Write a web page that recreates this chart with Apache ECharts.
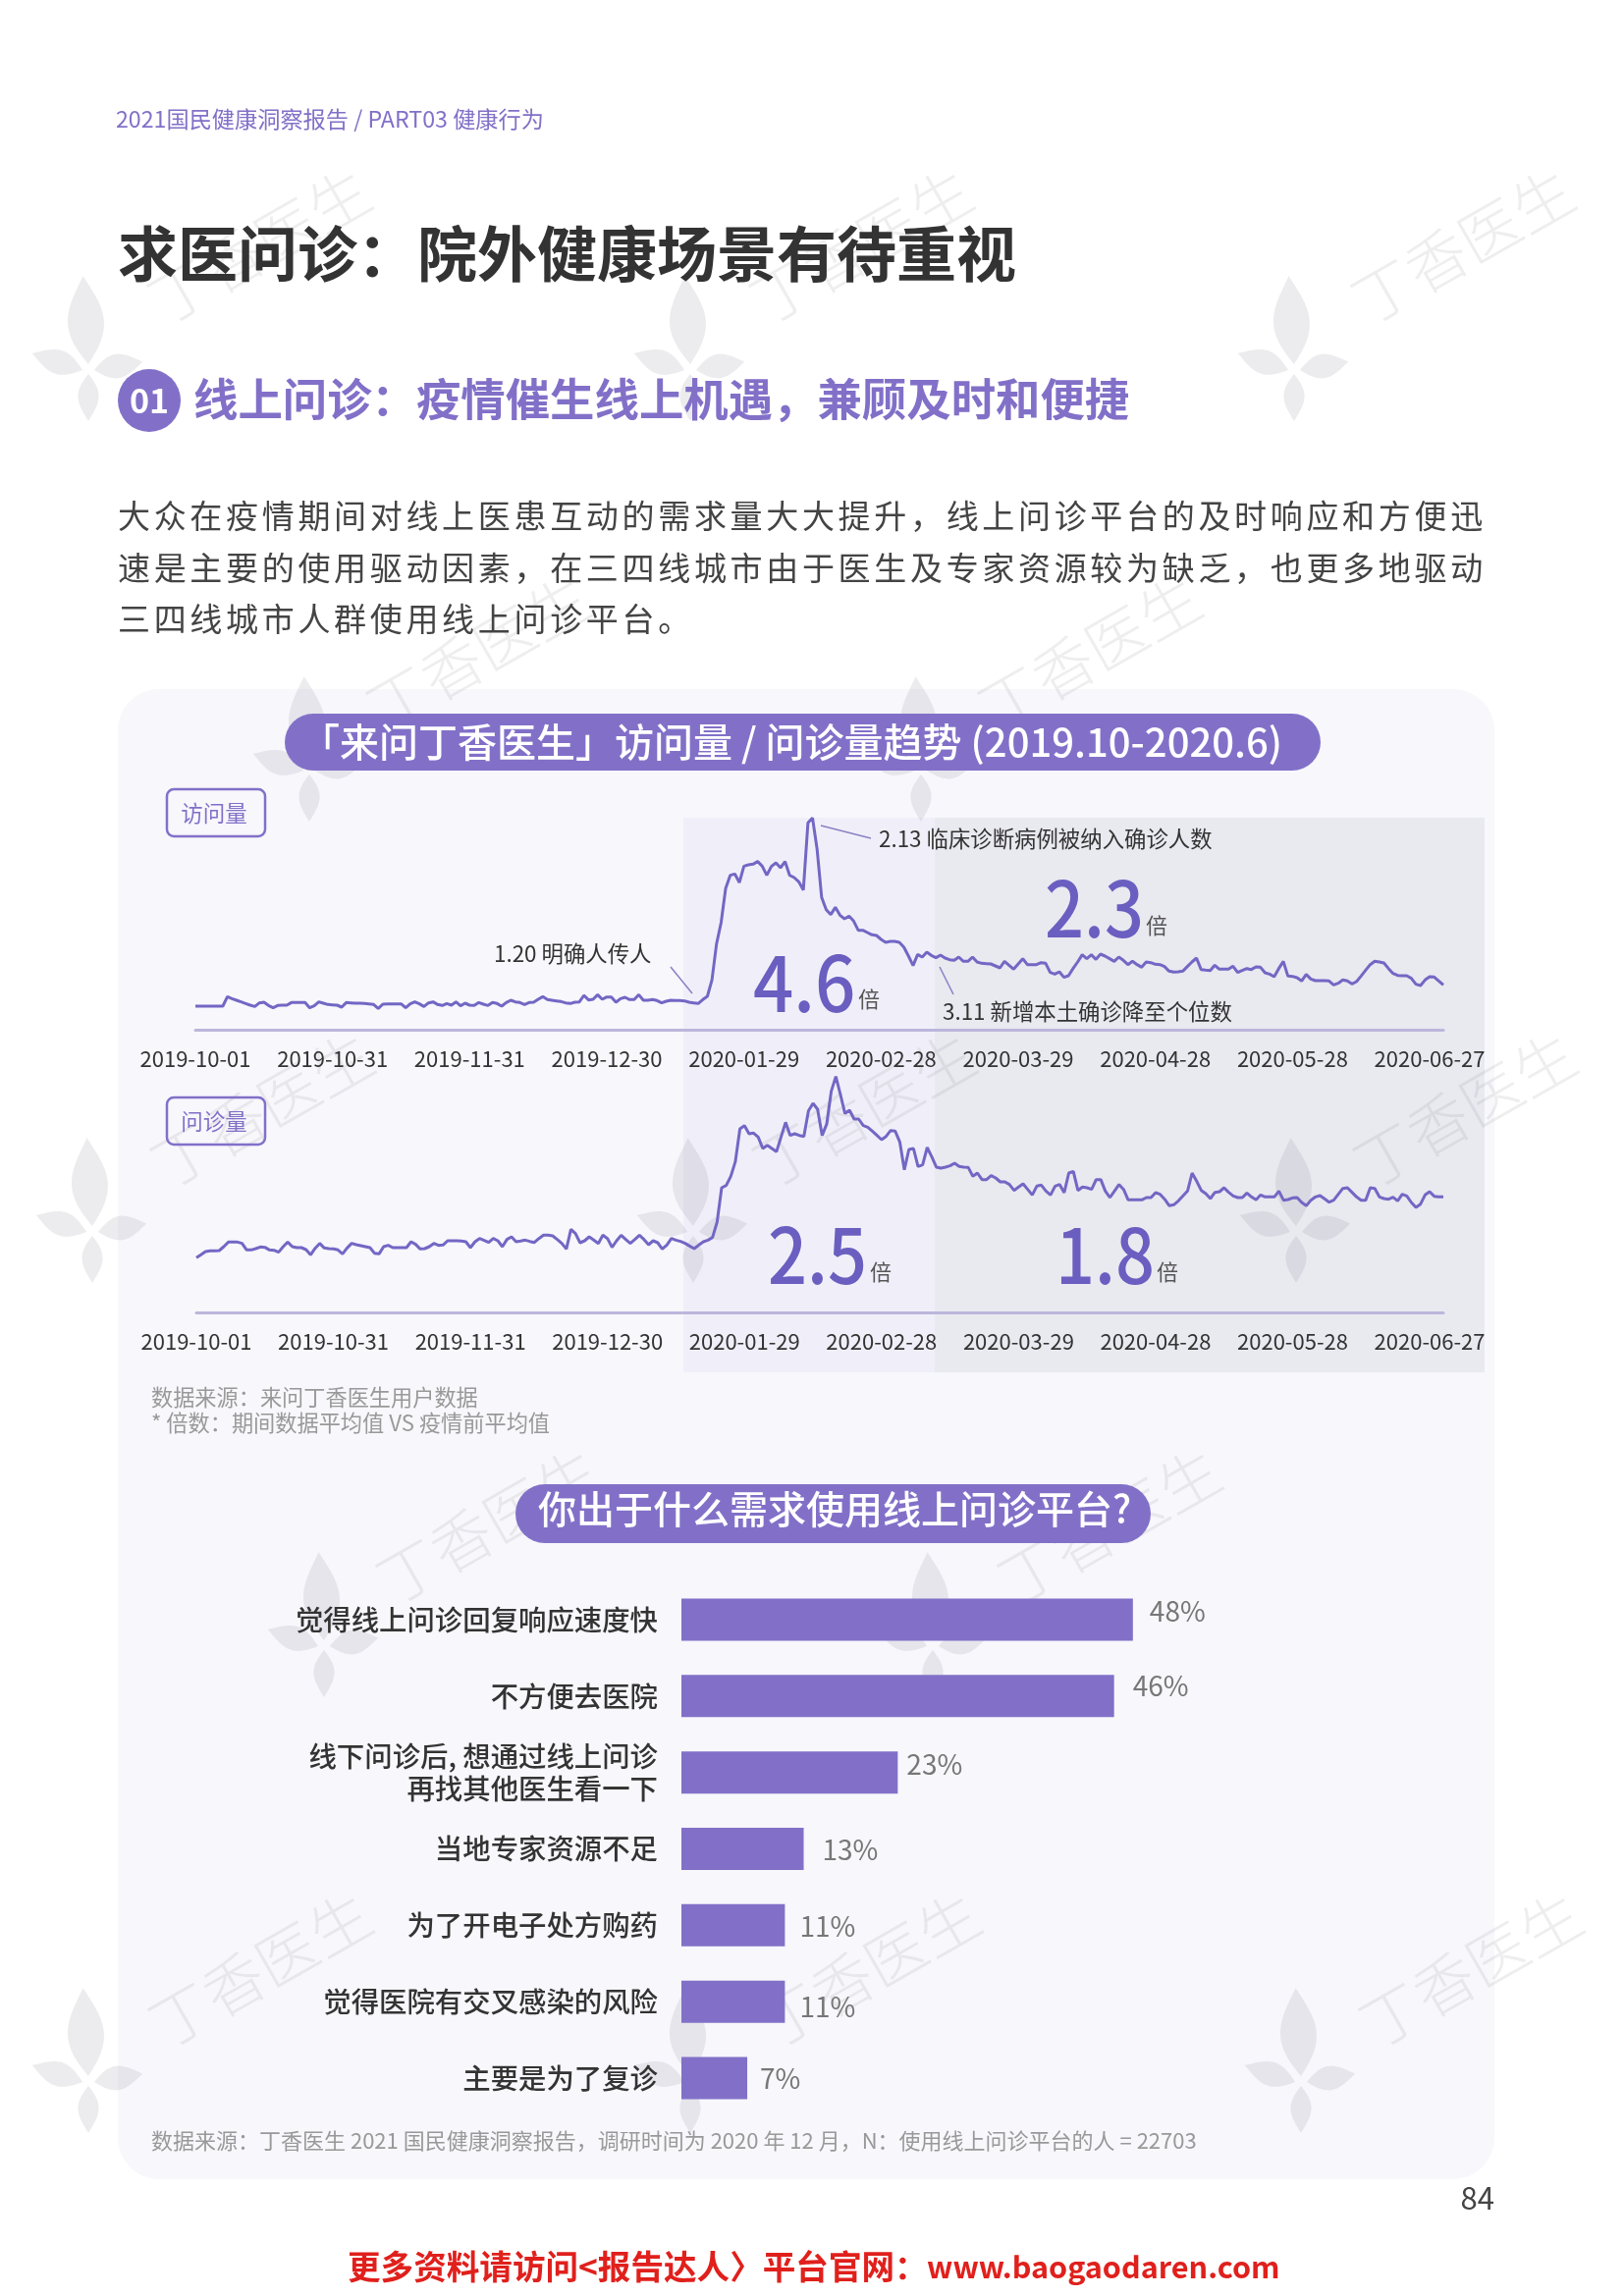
<!DOCTYPE html>
<html lang="zh"><head><meta charset="utf-8">
<style>html,body{margin:0;padding:0;background:#fff}#c{width:1654px;height:2339px}</style>
<script src="https://cdn.jsdelivr.net/npm/echarts@6/dist/echarts.min.js"></script>
</head><body><div id="c"></div>
<script>
// ---------- data ----------
const tickLabels1 = ['2019-10-01','2019-10-31','2019-11-31','2019-12-30','2020-01-29','2020-02-28','2020-03-29','2020-04-28','2020-05-28','2020-06-27'];
const tickLabels2 = tickLabels1.slice();
const visits = [
72,72,72,72,72,72,72,101,95,90,
85,80,75,71,82,84,74,67,74,75,
75,83,83,83,83,67,73,85,81,77,
76,75,69,83,82,81,81,80,79,77,
65,78,79,79,79,79,67,79,85,79,
71,82,85,77,74,80,75,85,73,81,
75,74,83,78,74,83,80,72,83,90,
85,83,77,83,84,93,101,92,90,88,
86,82,80,84,85,105,91,93,107,93,
100,100,84,95,99,92,92,107,90,90,
92,89,82,87,90,89,89,88,84,82,
80,92,102,152,262,327,432,472,476,450,
500,504,506,514,500,472,499,510,495,514,
472,465,452,427,632,647,552,404,367,352,
374,350,339,347,332,304,304,297,290,288,
276,267,270,270,267,252,225,196,230,222,
237,227,220,228,219,214,212,222,209,209,
222,207,203,202,201,195,189,209,197,185,
201,217,199,199,199,205,203,175,170,177,
160,165,187,207,229,217,229,215,231,225,
217,209,222,212,199,209,199,191,207,205,
200,199,193,179,176,177,179,193,207,219,
184,182,181,197,185,185,185,194,175,181,
187,184,192,191,174,170,162,187,209,164,
163,159,149,169,155,150,150,150,149,137,
142,152,149,140,147,164,182,199,209,207,
204,187,172,166,165,165,157,139,135,152,
162,161,149,137];
const consults = [
167,176,186,188,188,189,201,215,215,215,
211,191,191,195,200,199,191,190,184,201,
215,201,198,198,192,176,196,211,197,195,
194,191,179,197,211,207,204,201,198,181,
179,201,205,198,198,198,198,216,208,194,
195,201,211,205,206,219,219,219,218,216,
198,216,226,220,214,226,219,201,223,231,
216,218,221,217,214,226,236,236,234,223,
211,194,254,241,213,219,231,221,211,236,
226,199,219,236,223,211,223,236,223,207,
219,213,194,206,226,221,217,211,203,195,
206,216,221,229,276,381,388,416,461,561,
571,546,548,536,501,511,501,491,536,581,
541,546,541,538,616,639,621,541,576,676,
721,666,608,618,591,591,571,566,554,541,
528,538,556,554,521,436,498,501,446,451,
504,476,444,441,444,448,456,446,444,443,
416,426,406,406,418,411,399,399,391,373,
383,393,376,359,386,389,371,359,386,391,
366,426,431,373,383,381,376,406,406,371,
351,371,391,376,344,344,344,344,351,351,
366,361,346,326,329,341,356,371,426,401,
373,363,348,367,369,381,367,356,351,351,
365,353,344,359,353,353,353,371,343,345,
350,351,336,326,343,353,357,347,337,343,
361,379,381,367,353,343,343,381,379,353,
348,346,352,341,361,356,336,321,331,359,
369,355,353,353];
const needCategories = ['觉得线上问诊回复响应速度快','不方便去医院','线下问诊后, 想通过线上问诊\n再找其他医生看一下','当地专家资源不足','为了开电子处方购药','觉得医院有交叉感染的风险','主要是为了复诊'];
const needValues = [48,46,23,13,11,11,7];
const bodyLines = ['大众在疫情期间对线上医患互动的需求量大大提升\uFF0C线上问诊平台的及时响应和方便迅','速是主要的使用驱动因素\uFF0C在三四线城市由于医生及专家资源较为缺乏\uFF0C也更多地驱动','三四线城市人群使用线上问诊平台\u3002'];

// ---------- style constants ----------
const FONT = '"Noto Sans CJK SC"';
const PURPLE = '#8270c8', LINE = '#7267c4', NUM = '#6a5ec0', AXIS = '#bcb6dc';
const WM = 'rgba(120,120,132,0.13)', WMF = 'rgba(120,120,132,0.14)';

// body text is letter-spaced in the source; canvas supports this natively
const spaced = new Set(bodyLines);
const origFill = CanvasRenderingContext2D.prototype.fillText;
CanvasRenderingContext2D.prototype.fillText = function (t) {
  if (spaced.has(t)) { this.letterSpacing = '3.68px'; origFill.apply(this, arguments); this.letterSpacing = '0px'; }
  else origFill.apply(this, arguments);
};

const T = (text, x, y, size, fill, o = {}) => ({
  type: 'text', x, y, rotation: o.rot || 0, scaleX: o.sx || 1, z: -1, z2: o.z2 || 10, silent: true,
  style: { text, fill, font: `${o.w || 400} ${size}px ${FONT}`, align: o.align || 'left', verticalAlign: 'middle' }
});
const R = (x, y, w, h, r, style, z2) => ({ type: 'rect', z: -1, z2: z2 || 0, silent: true, shape: { x, y, width: w, height: h, r }, style });
const L = (x1, y1, x2, y2) => ({ type: 'line', z: -1, z2: 10, silent: true, shape: { x1, y1, x2, y2 }, style: { stroke: '#8a80c4', lineWidth: 1.5 } });
// decorative petal outline
const petalPoints = (l, w) => {
  const pts = [];
  for (let k = 0; k <= 24; k++) { const u = k / 24; pts.push([w * Math.sin(Math.PI * u) * (1 - .25 * u), -l * u]); }
  for (let k = 23; k > 0; k--) { const u = k / 24; pts.push([-w * Math.sin(Math.PI * u) * (1 - .25 * u), -l * u]); }
  return pts;
};
const flower = (x, y) => ({
  type: 'group', x, y, z: -1, silent: true,
  children: [[90, 21, 0.06, 0, -6], [54, 14, 1.25, -6, 0], [50, 14, -1.4, 6, 0], [48, 12, Math.PI, 0, 4]].map(([l, w, r, dx, dy]) => ({
    type: 'polygon', z: -1, z2: 2, silent: true, rotation: r, x: dx, y: dy,
    shape: { points: petalPoints(l, w) }, style: { fill: WMF }
  }))
});
const mark = (x, y) => T('丁香医生', x, y, 62, WM, { rot: 0.52, w: 300, align: 'center', z2: 3 });

const graphics = [
  R(120, 702, 1402, 1518, 42, { fill: '#f7f7fc' }, 0),
  R(696, 833, 256, 565, 0, { fill: '#f0eff9' }, 1),
  R(952, 833, 560, 565, 0, { fill: '#e9e9f0' }, 1),
];
[[90, 377], [703, 377], [1318, 377], [315, 785], [938, 785], [94, 1255], [706, 1255], [1320, 1255], [330, 1677], [950, 1677], [90, 2121], [703, 2121], [1325, 2121]]
  .forEach(p => graphics.push(flower(p[0], p[1])));
[[264, 250], [877, 250], [1490, 250], [487, 665], [1110, 665], [267, 1130], [880, 1130], [1492, 1130], [497, 1554], [1130, 1554], [265, 2006], [885, 2006], [1498, 2006]]
  .forEach(p => graphics.push(mark(p[0], p[1])));
graphics.push(
  T('2021国民健康洞察报告 / PART03 健康行为', 118, 121, 23.2, PURPLE),
  T('求医问诊\uFF1A院外健康场景有待重视', 120, 259, 61, '#333', { w: 700 }),
  { type: 'circle', z: -1, z2: 10, silent: true, shape: { cx: 152, cy: 408, r: 32 }, style: { fill: PURPLE } },
  T('01', 152, 408, 34, '#fff', { w: 700, align: 'center', z2: 11 }),
  T('线上问诊\uFF1A疫情催生线上机遇\uFF0C兼顾及时和便捷', 197, 407, 45.4, PURPLE, { w: 700 }),
  T(bodyLines[0], 120, 525, 33, '#444'),
  T(bodyLines[1], 120, 578, 33, '#444'),
  T(bodyLines[2], 120, 630, 33, '#444'),
  R(290, 727, 1055, 58, 29, { fill: PURPLE }, 10),
  T('「来问丁香医生」访问量 / 问诊量趋势 (2019.10-2020.6)', 806, 756, 40, '#fff', { align: 'center', z2: 11, w: 500 }),
  R(170, 804, 100, 48, 7, { fill: 'none', stroke: PURPLE, lineWidth: 2.5 }, 10),
  T('访问量', 218, 828, 22.5, PURPLE, { align: 'center' }),
  R(170, 1118, 100, 48, 7, { fill: 'none', stroke: PURPLE, lineWidth: 2.5 }, 10),
  T('问诊量', 218, 1142, 22.5, PURPLE, { align: 'center' }),
  T('1.20 明确人传人', 503, 971, 22.4, '#333'),
  L(683, 985, 705, 1012),
  T('2.13 临床诊断病例被纳入确诊人数', 895, 854, 22.4, '#333'),
  L(836, 841, 887, 854),
  T('3.11 新增本土确诊降至个位数', 960, 1030, 22.4, '#333'),
  L(957, 985, 971, 1013),
  T('4.6', 767, 1001, 78, NUM, { w: 500, sx: .93 }),
  T('倍', 874, 1018, 22, '#555'),
  T('2.3', 1064, 925, 78, NUM, { w: 500, sx: .9 }),
  T('倍', 1167, 943, 22, '#555'),
  T('2.5', 782, 1278, 78, NUM, { w: 500, sx: .9 }),
  T('倍', 886, 1296, 22, '#555'),
  T('1.8', 1075, 1278, 78, NUM, { w: 500, sx: .9 }),
  T('倍', 1178, 1296, 22, '#555'),
  T('数据来源\uFF1A来问丁香医生用户数据', 154, 1424, 22.2, '#999'),
  T('* 倍数\uFF1A期间数据平均值 VS 疫情前平均值', 154, 1450, 22.2, '#999'),
  R(525, 1512, 647, 60, 30, { fill: PURPLE }, 10),
  T('你出于什么需求使用线上问诊平台?', 850, 1537, 39, '#fff', { align: 'center', z2: 11, w: 500 }),
  T('数据来源\uFF1A丁香医生 2021 国民健康洞察报告\uFF0C调研时间为 2020 年 12 月\uFF0CN\uFF1A使用线上问诊平台的人 = 22703', 154, 2181, 22, '#999'),
  T('84', 1522, 2239, 31, '#444', { align: 'right' }),
  T('更多资料请访问<报告达人〉平台官网\uFF1A', 354, 2309, 33.6, '#e0201c', { w: 700 }),
  T('www.baogaodaren.com', 944, 2309, 30.6, '#e0201c', { w: 700 })
);

const cats = visits.map((_, i) => i);
const xAx = (gridIndex, ticks) => ({
  type: 'category', gridIndex, boundaryGap: false, data: cats,
  axisTick: { show: false }, axisLine: { lineStyle: { color: AXIS, width: 3 } },
  axisLabel: { interval: i => i % 30 === 0, hideOverlap: false, margin: 19, fontSize: 22, color: '#333', fontFamily: FONT,
    formatter: (v, i) => ticks[i / 30] || '' }
});
const labelShift = [[1, -9], [3, -10], [-7, -8], [3, 1], [-1, 1], [-1, 5], [-3, 0]];
const chart = echarts.init(document.getElementById('c'), null, { width: 1654, height: 2339 });
chart.setOption({
  animation: false,
  graphic: { elements: graphics },
  grid: [
    { left: 199, top: 829, width: 1271, height: 220 },
    { left: 200, top: 1087, width: 1270, height: 250 },
    { left: 694, top: 1611, width: 958, height: 545 }
  ],
  xAxis: [xAx(0, tickLabels1), xAx(1, tickLabels2),
    { type: 'value', gridIndex: 2, min: 0, max: 100, show: false }],
  yAxis: [
    { type: 'value', gridIndex: 0, min: 0, max: 660, show: false },
    { type: 'value', gridIndex: 1, min: 0, max: 750, show: false },
    { type: 'category', gridIndex: 2, inverse: true, data: needCategories,
      axisTick: { show: false }, axisLine: { show: false },
      axisLabel: { margin: 24, fontSize: 28.4, fontWeight: 500, lineHeight: 33, color: '#333', fontFamily: FONT, align: 'right', padding: [6, 0, 0, 0] } }
  ],
  series: [
    { type: 'line', xAxisIndex: 0, yAxisIndex: 0, data: visits, showSymbol: false, lineStyle: { color: LINE, width: 3 }, itemStyle: { color: LINE } },
    { type: 'line', xAxisIndex: 1, yAxisIndex: 1, data: consults, showSymbol: false, lineStyle: { color: LINE, width: 3 }, itemStyle: { color: LINE } },
    { type: 'bar', xAxisIndex: 2, yAxisIndex: 2, barWidth: 43, itemStyle: { color: PURPLE },
      data: needValues.map((v, i) => ({ value: v, label: { offset: labelShift[i] } })),
      label: { show: true, position: 'right', distance: 16, formatter: p => p.value + '%', fontSize: 28, color: '#777', fontFamily: FONT } }
  ]
});
</script></body></html>
